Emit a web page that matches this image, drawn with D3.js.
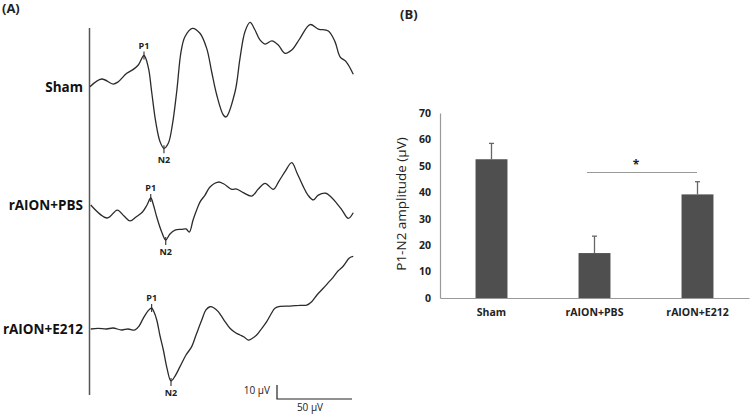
<!DOCTYPE html>
<html><head><meta charset="utf-8">
<script src="https://cdn.jsdelivr.net/npm/d3@7"></script>
<style>body{margin:0;background:#fff}svg{display:block}</style>
</head><body><svg id="c" width="750" height="415"></svg>
<script>
// ---------- Panel A data: VEP traces (time in ms, amplitude in µV) ----------
const shamT = [0,7.8,15.5,18.9,24.5,28.9,32.2,36,38.9,41.1,43.8,46.7,49.3,52.2,54.9,57.8,60.7,63.3,68.2,73.3,77.8,81.1,84.5,88.9,90.7,96.7,100,103.3,106.7,110,113.3,116.7,121.3,125.5,130,134.5,140,146.7,152.2,158.9,163.3,166.7,170.7,175.5];
const shamV = [0.2,5.7,2.1,3.8,9.8,12.6,15.7,22.5,13.9,-3.4,-24.8,-39.1,-43.8,-40.2,-27.1,-3.4,25.2,35.9,41.9,38.4,27.6,10.9,-5.7,-20,-21.4,-3.4,20.5,39.5,46.1,40.7,33.6,30.7,32.9,30,24.1,26.4,34.8,44.6,41.4,40,32.4,21.6,18.1,9.1];
const pbsT = [0.5,11.5,18.2,22.7,26.7,30.7,35,38,40.5,42.3,44.5,47.8,50.5,53.3,56.7,61.1,64,66.2,68.7,71.1,73.3,76.7,80,85.5,89.3,94.5,97.8,102.2,107.8,112.2,116.7,122.2,126,130,134.5,138,142.2,145.3,148.9,152.2,157.3,160.7,164.5,168,172.2,175.5];
const pbsV = [0,-9.3,-3.6,-7.9,-11.4,-8.6,-5,0,5,0,-8.6,-19.3,-25,-20.7,-17.9,-17.4,-17.1,-19.3,-10.7,-3.6,2.1,7.1,12.9,16.4,15,11.2,11.4,8.8,6.4,11.4,15.5,11.2,17.1,23.8,30.2,22.9,13.1,7.1,3.6,7.1,8.4,5.7,1.2,-3.6,-9.5,-5.5];
const e212T = [0.5,5.3,11.1,15.3,21.1,25.3,30,32.7,35.5,38.7,41.1,42.7,44.5,46.7,48.9,51.3,54,56.7,60,64,67.8,70.7,74.5,77.3,80,82.7,85.5,89.3,93.3,97.3,100,102.7,105.5,108,111.1,114.7,117.8,120.7,123.3,126.7,133.3,140,144.5,147.8,151.3,155.5,158.7,162.2,165.3,168.9,172.9,175.5];
const e212V = [0,0.4,0,0.7,-0.7,0,-0.7,2.1,7.6,12.9,15,12.1,6.4,-5,-15,-27.9,-37.1,-33.6,-26.9,-18.6,-12.6,-4.3,6.4,13.6,15.9,15,12.4,6.4,0.5,-2.9,-4.3,-5.7,-7.9,-6.8,-4.3,0.7,5.2,10.7,14.8,16.1,16.4,16.9,17.1,19.5,24.3,29.1,32.9,37.1,41.4,45,50.7,51.8];
const groups = ["Sham","rAION+PBS","rAION+E212"];
const p1Index = [7, 8, 10];   // index of the P1 peak in each trace
const n2Index = [12, 12, 16]; // index of the N2 trough in each trace
const scaleBarV = 10, scaleBarH = 50;
const scaleBarLabels = ["10 µV","50 µV"];

// ---------- Panel B data ----------
const categories = ["Sham","rAION+PBS","rAION+E212"];
const amplitude = [52.5, 17.0, 39.2];
const errorUp = [6.0, 6.4, 4.8];
const yTicks = [0,10,20,30,40,50,60,70];
const yLabel = "P1-N2 amplitude (µV)";

const svg = d3.select("#c");
const font = "'Open Sans', 'Liberation Sans', sans-serif";
const traceColor = "#2b2b2b";

// ===== Panel A =====
svg.append("text").attr("x",2).attr("y",13).text("(A)")
  .attr("font-family",font).attr("font-weight","bold").attr("font-size",13).attr("fill","#222");
svg.append("line").attr("x1",89.5).attr("x2",89.5).attr("y1",28).attr("y2",395)
  .attr("stroke","#555").attr("stroke-width",1.5);

const tx = d3.scaleLinear().domain([0,50]).range([90,165]);
const baselines = [87, 205, 329];
const traces = [[shamT,shamV],[pbsT,pbsV],[e212T,e212V]];
const line = d3.line().curve(d3.curveCatmullRom.alpha(0.5));

traces.forEach(([T,V],i)=>{
  const ty = d3.scaleLinear().domain([0,10]).range([baselines[i], baselines[i]-14]);
  const pts = T.map((t,k)=>[tx(t), ty(V[k])]);
  svg.append("path").attr("d", line(pts)).attr("fill","none")
    .attr("stroke",traceColor).attr("stroke-width",1.3).attr("stroke-linejoin","round");
  svg.append("text").attr("x",83).attr("y",baselines[i]+5).attr("text-anchor","end")
    .text(groups[i]).attr("font-family",font).attr("font-weight","bold")
    .attr("font-size",13.5).attr("fill","#111");
  const p = pts[p1Index[i]], n = pts[n2Index[i]];
  svg.append("line").attr("x1",p[0]).attr("x2",p[0]).attr("y1",p[1]-4).attr("y2",p[1]+4)
    .attr("stroke",traceColor).attr("stroke-width",1.1);
  svg.append("text").attr("x",p[0]).attr("y",p[1]-7).attr("text-anchor","middle").text("P1")
    .attr("font-family",font).attr("font-weight","bold").attr("font-size",9).attr("fill","#222");
  svg.append("line").attr("x1",n[0]).attr("x2",n[0]).attr("y1",n[1]-3).attr("y2",n[1]+5)
    .attr("stroke",traceColor).attr("stroke-width",1.1);
  svg.append("text").attr("x",n[0]).attr("y",n[1]+15).attr("text-anchor","middle").text("N2")
    .attr("font-family",font).attr("font-weight","bold").attr("font-size",9).attr("fill","#222");
});

// scale bar
const sbY = d3.scaleLinear().domain([0,10]).range([399, 385]);
const sbX0 = 277;
svg.append("path").attr("d", `M${sbX0},${sbY(scaleBarV)}V${sbY(0)}H${sbX0 + tx(scaleBarH)-tx(0)}`)
  .attr("fill","none").attr("stroke","#222").attr("stroke-width",1.2);
svg.append("text").attr("x",270).attr("y",393.5).attr("text-anchor","end").text(scaleBarLabels[0])
  .attr("font-family",font).attr("font-size",10).attr("fill","#222");
svg.append("text").attr("x",310).attr("y",410.5).attr("text-anchor","middle").text(scaleBarLabels[1])
  .attr("font-family",font).attr("font-size",10).attr("fill","#222");

// ===== Panel B =====
svg.append("text").attr("x",400).attr("y",19).text("(B)")
  .attr("font-family",font).attr("font-weight","bold").attr("font-size",13).attr("fill","#222");

const x = d3.scaleBand().domain(categories).range([440,749]).paddingInner(0.69).paddingOuter(0.345);
const y = d3.scaleLinear().domain([0,70]).range([298,113]);

const gy = svg.append("g").attr("transform","translate(440,0)")
  .call(d3.axisLeft(y).tickValues(yTicks).tickSize(0).tickPadding(9));
gy.select(".domain").attr("stroke","#999").attr("stroke-width",1.2);
gy.selectAll("text").attr("font-family",font).attr("font-weight","bold").attr("font-size",10.5).attr("fill","#222");

svg.selectAll("rect.bar").data(categories).join("rect").attr("class","bar")
  .attr("x",d=>x(d)).attr("width",x.bandwidth())
  .attr("y",(d,i)=>y(amplitude[i])).attr("height",(d,i)=>y(0)-y(amplitude[i]))
  .attr("fill","#4f4f4f");

categories.forEach((c,i)=>{
  const cx = x(c)+x.bandwidth()/2;
  svg.append("line").attr("x1",cx).attr("x2",cx).attr("y1",y(amplitude[i])).attr("y2",y(amplitude[i]+errorUp[i]))
    .attr("stroke","#666").attr("stroke-width",1.3);
  svg.append("line").attr("x1",cx-2.5).attr("x2",cx+2.5).attr("y1",y(amplitude[i]+errorUp[i])).attr("y2",y(amplitude[i]+errorUp[i]))
    .attr("stroke","#666").attr("stroke-width",1.3);
});

const gx = svg.append("g").attr("transform","translate(0,298)")
  .call(d3.axisBottom(x).tickSize(0).tickPadding(11));
gx.select(".domain").attr("stroke","#999").attr("stroke-width",1.2);
gx.selectAll("text").attr("font-family",font).attr("font-weight","bold").attr("font-size",10.5).attr("fill","#222");

svg.append("text").attr("transform","translate(405.5,204) rotate(-90)").attr("text-anchor","middle")
  .text(yLabel).attr("font-family",font).attr("font-size",13.5).attr("fill","#222");

// significance bar
svg.append("line").attr("x1",587).attr("x2",697).attr("y1",172.5).attr("y2",172.5)
  .attr("stroke","#999").attr("stroke-width",1.2);
svg.append("text").attr("x",636).attr("y",169).attr("text-anchor","middle").text("*")
  .attr("font-family",font).attr("font-weight","bold").attr("font-size",12).attr("fill","#222");
</script></body></html>
